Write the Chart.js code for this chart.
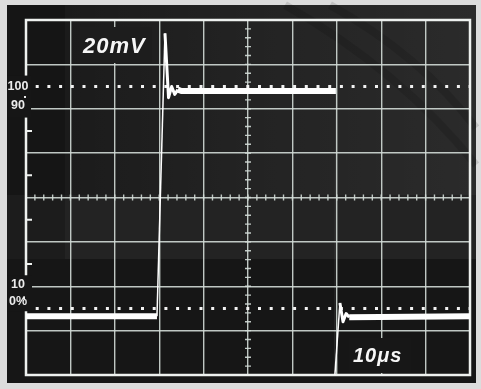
<!DOCTYPE html>
<html>
<head>
<meta charset="utf-8">
<script src="https://cdn.jsdelivr.net/npm/chart.js@4.4.1/dist/chart.umd.min.js"></script>
<style>
  html, body { margin: 0; padding: 0; background: #dedede; }
</style>
</head>
<body>
<canvas id="scope" width="481" height="389"></canvas>
<script>
// pulse trace: time in microseconds, level in percent of the step
const timeUs   = [0, 29.5, 31.3, 32.1, 32.8, 33.5, 34.2, 35.0, 69.8, 69.5, 70.7, 71.4, 72.1, 72.8, 100];
const levelPct = [-3.5, -3.5, 124, 95, 100, 96.5, 98.6, 98, 98, -32, 2.5, -6, -2.3, -4, -3.5];

// dotted reference levels and the marks printed at the left edge
const refLevels  = [100, 0];
const sideLabels = ['100', '90', '10', '0%'];
const sideValues = [100, 90, 10, 0];

const voltsText = '20mV';
const timeText  = '10\u03bcs';

const GRID = 'rgba(210,218,214,0.9)';
const FRAME = '#eef1ef';
const SCREEN = '#1b1b1b';

const trace = timeUs.map((t, i) => ({ x: t, y: levelPct[i] }));

const refSets = refLevels.map(v => ({
    data: [{ x: 0, y: v }, { x: 100, y: v }],
    borderColor: '#f2f2f2',
    borderWidth: 3,
    borderDash: [3, 8.7],
    borderDashOffset: 2,
    pointRadius: 0,
}));

// screen background, graticule frame, minor ticks and labels
const scopeDecor = {
    id: 'scopeDecor',
    beforeDraw(chart) {
        const { ctx, width, height } = chart;
        ctx.save();
        ctx.fillStyle = '#dcdcdc';
        ctx.fillRect(0, 0, width, height);
        ctx.fillStyle = SCREEN;
        ctx.fillRect(7, 5, 469, 378);
        // lighter glass toward the upper right
        let g = ctx.createLinearGradient(60, 0, 476, 0);
        g.addColorStop(0, 'rgba(255,255,255,0)');
        g.addColorStop(0.4, 'rgba(255,255,255,0.03)');
        g.addColorStop(1, 'rgba(255,255,255,0.07)');
        ctx.fillStyle = g;
        ctx.fillRect(7, 5, 469, 190);
        ctx.fillStyle = 'rgba(255,255,255,0.035)';
        ctx.fillRect(7, 195, 469, 64);
        ctx.fillStyle = 'rgba(0,0,0,0.2)';
        ctx.fillRect(7, 5, 58, 254);
        ctx.fillStyle = 'rgba(0,0,0,0.15)';
        ctx.fillRect(7, 259, 469, 124);
        // faint diagonal stamp marks
        ctx.strokeStyle = 'rgba(0,0,0,0.12)';
        ctx.lineWidth = 8;
        ctx.beginPath();
        ctx.moveTo(285, 5); ctx.quadraticCurveTo(400, 70, 476, 165);
        ctx.moveTo(330, 5); ctx.quadraticCurveTo(420, 55, 476, 128);
        ctx.stroke();
        ctx.restore();
    },
    beforeDatasetsDraw(chart) {
        const { ctx, chartArea: a, scales: { x, y } } = chart;
        ctx.save();
        ctx.strokeStyle = FRAME;
        ctx.lineWidth = 2.5;
        ctx.strokeRect(a.left, a.top, a.right - a.left, a.bottom - a.top);

        ctx.strokeStyle = GRID;
        ctx.lineWidth = 1.4;
        ctx.beginPath();
        const cx = x.getPixelForValue(50);
        const cy = y.getPixelForValue(50);
        for (let t = 2; t < 100; t += 2) {
            const px = x.getPixelForValue(t);
            ctx.moveTo(px, cy - 3); ctx.lineTo(px, cy + 3);
        }
        for (let v = -26; v < 130; v += 4) {
            const py = y.getPixelForValue(v);
            ctx.moveTo(cx - 3, py); ctx.lineTo(cx + 3, py);
        }
        ctx.stroke();

        ctx.strokeStyle = FRAME;
        ctx.lineWidth = 2;
        ctx.beginPath();
        [20, 40, 60, 80].forEach(v => {
            const py = y.getPixelForValue(v);
            ctx.moveTo(a.left, py); ctx.lineTo(a.left + 6, py);
        });
        ctx.stroke();
        ctx.restore();
    },
    afterDatasetsDraw(chart) {
        const { ctx, scales: { x, y } } = chart;
        ctx.save();
        ctx.fillStyle = '#161616';
        ctx.fillRect(7, y.getPixelForValue(100) - 11, 24, 42);
        ctx.fillRect(7, y.getPixelForValue(10) - 11, 25, 36);
        ctx.fillStyle = '#1d1d1d';
        ctx.fillRect(80, 27, 72, 36);
        ctx.fillStyle = '#171717';
        ctx.fillRect(349, 338, 62, 35);

        ctx.fillStyle = '#ececec';
        ctx.font = 'bold 12.5px "Liberation Sans", Arial, sans-serif';
        ctx.textAlign = 'center';
        ctx.textBaseline = 'alphabetic';
        const nudge = [3, 0, 2, -3];
        sideLabels.forEach((s, i) => {
            ctx.fillText(s, 18, y.getPixelForValue(sideValues[i]) + nudge[i]);
        });
        ctx.fillRect(24, 96, 2, 2);
        ctx.fillRect(23, 297, 2, 2);

        ctx.fillStyle = '#f6f6f6';
        ctx.textAlign = 'left';
        ctx.letterSpacing = '1px';
        ctx.font = 'italic bold 22px "Liberation Sans", Arial, sans-serif';
        ctx.fillText(voltsText, 83, 53);
        ctx.font = 'italic bold 20px "Liberation Sans", Arial, sans-serif';
        ctx.fillText(timeText, 353, 362);
        ctx.restore();
    }
};

new Chart(document.getElementById('scope'), {
    type: 'line',
    data: {
        datasets: [
            {
                data: trace,
                borderColor: '#ffffff',
                pointRadius: 0,
                borderCapStyle: 'butt',
                borderJoinStyle: 'round',
                segment: {
                    borderWidth: ctx => {
                        const dy = Math.abs(ctx.p1.parsed.y - ctx.p0.parsed.y);
                        return dy > 30 ? 1.5 : dy > 0.9 ? 3 : 6;
                    },
                    borderColor: ctx => (ctx.p1.parsed.y - ctx.p0.parsed.y < -60 ? 'rgba(255,255,255,0.07)' : '#ffffff'),
                },
            },
            ...refSets,
        ],
    },
    options: {
        responsive: false,
        animation: false,
        layout: { padding: { left: 26, top: 20, right: 11, bottom: 14 } },
        plugins: { legend: { display: false }, tooltip: { enabled: false } },
        scales: {
            x: {
                type: 'linear',
                min: 0,
                max: 100,
                ticks: { display: false, stepSize: 10 },
                grid: { color: GRID, lineWidth: 1.4, drawTicks: false },
                border: { display: false },
            },
            y: {
                min: -30,
                max: 130,
                ticks: { display: false, stepSize: 20 },
                grid: { color: GRID, lineWidth: 1.4, drawTicks: false },
                border: { display: false },
            },
        },
    },
    plugins: [scopeDecor],
});
</script>
</body>
</html>
